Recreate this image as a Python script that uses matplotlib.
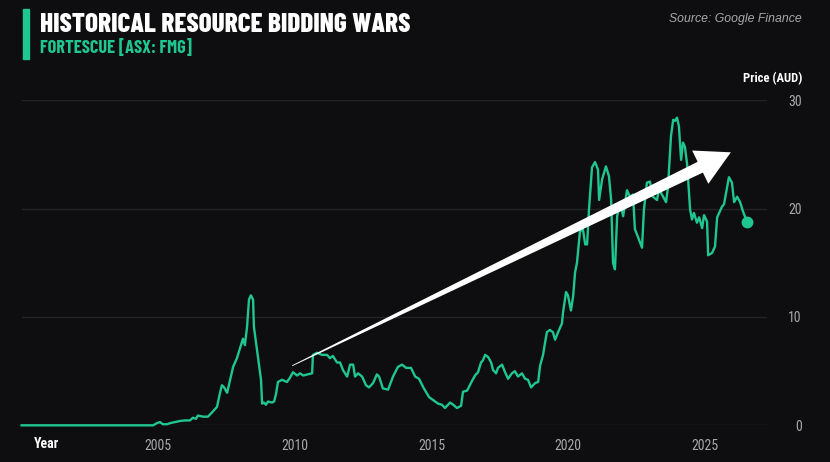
import matplotlib.pyplot as plt
from matplotlib.patches import Polygon, Rectangle

# FMG share price (AUD)
years = [
    2000.0, 2004.81, 2004.95, 2005.06, 2005.17, 2005.32, 2005.43, 2005.61, 2005.80, 2005.98,
    2006.16, 2006.27, 2006.38, 2006.45, 2006.64, 2006.82, 2006.97, 2007.15, 2007.26, 2007.33,
    2007.41, 2007.52, 2007.63, 2007.74, 2007.88, 2007.99, 2008.10, 2008.17, 2008.25, 2008.32,
    2008.39, 2008.47, 2008.50, 2008.58, 2008.65, 2008.76, 2008.80, 2008.87, 2008.94, 2009.02,
    2009.16, 2009.24, 2009.31, 2009.38, 2009.53, 2009.71, 2009.82, 2009.93, 2010.08, 2010.19,
    2010.30, 2010.63, 2010.66, 2010.81, 2010.99, 2011.18, 2011.28, 2011.39, 2011.54, 2011.65,
    2011.76, 2011.91, 2012.02, 2012.13, 2012.20, 2012.31, 2012.46, 2012.60, 2012.71, 2012.86,
    2013.00, 2013.08, 2013.22, 2013.41, 2013.59, 2013.77, 2013.92, 2014.07, 2014.25, 2014.40,
    2014.54, 2014.72, 2014.91, 2015.13, 2015.24, 2015.38, 2015.49, 2015.68, 2015.79, 2015.93,
    2016.08, 2016.15, 2016.30, 2016.44, 2016.59, 2016.70, 2016.81, 2016.88, 2016.96, 2017.07,
    2017.18, 2017.25, 2017.36, 2017.43, 2017.58, 2017.69, 2017.80, 2017.94, 2018.05, 2018.16,
    2018.31, 2018.42, 2018.53, 2018.64, 2018.79, 2018.90, 2018.97, 2019.08, 2019.15, 2019.22,
    2019.33, 2019.44, 2019.52, 2019.63, 2019.77, 2019.81, 2019.92, 2019.99, 2020.10, 2020.18,
    2020.25, 2020.32, 2020.43, 2020.54, 2020.62, 2020.69, 2020.76, 2020.87, 2020.98, 2021.09,
    2021.13, 2021.24, 2021.38, 2021.49, 2021.57, 2021.64, 2021.71, 2021.79, 2021.90, 2022.01,
    2022.15, 2022.26, 2022.37, 2022.44, 2022.55, 2022.70, 2022.77, 2022.88, 2022.99, 2023.10,
    2023.25, 2023.32, 2023.47, 2023.58, 2023.65, 2023.76, 2023.84, 2023.91, 2023.98, 2024.05,
    2024.13, 2024.20, 2024.27, 2024.35, 2024.46, 2024.53, 2024.60, 2024.71, 2024.79, 2024.90,
    2024.97, 2025.08, 2025.12, 2025.26, 2025.37, 2025.45, 2025.63, 2025.70, 2025.81, 2025.88,
    2025.99, 2026.07, 2026.18, 2026.29, 2026.40, 2026.54,
]
price = [
    0.0, 0.0, 0.2, 0.3, 0.1, 0.1, 0.2, 0.3, 0.4, 0.45,
    0.45, 0.7, 0.6, 0.9, 0.8, 0.8, 1.2, 1.7, 3.0, 3.7,
    3.5, 3.0, 4.2, 5.4, 6.2, 7.1, 8.0, 7.4, 9.1, 11.6,
    12.0, 11.6, 9.1, 7.6, 6.3, 4.2, 2.0, 2.1, 1.9, 2.2,
    2.1, 2.2, 2.9, 4.0, 4.2, 4.0, 4.4, 4.9, 4.6, 4.8,
    4.6, 4.8, 6.5, 6.7, 6.5, 6.5, 6.2, 6.4, 5.8, 5.8,
    5.1, 4.5, 5.6, 5.6, 4.5, 4.8, 4.5, 3.7, 3.5, 3.9,
    4.7, 4.5, 3.4, 3.3, 4.5, 5.4, 5.6, 5.3, 5.3, 4.5,
    4.3, 3.4, 2.6, 2.2, 2.0, 1.9, 1.6, 2.1, 1.9, 1.6,
    1.8, 3.1, 3.2, 3.9, 4.6, 4.9, 5.8, 6.0, 6.5, 6.3,
    5.8, 5.1, 4.8, 5.3, 5.6, 4.9, 4.3, 4.8, 5.0, 4.5,
    4.8, 4.3, 4.2, 3.5, 3.9, 4.0, 5.5, 6.5, 7.6, 8.6,
    8.8, 8.6, 7.9, 8.6, 9.4, 10.4, 12.3, 12.0, 10.6, 11.9,
    14.1, 15.0, 17.9, 18.1, 16.7, 16.7, 19.9, 23.8, 24.3, 23.6,
    20.8, 22.7, 23.9, 23.0, 20.8, 15.0, 14.4, 19.3, 20.6, 19.3,
    21.7, 21.1, 21.3, 18.1, 17.4, 16.4, 19.9, 22.4, 22.5, 21.1,
    20.8, 21.8, 21.1, 20.6, 22.0, 26.7, 28.2, 28.1, 28.4, 27.6,
    24.5, 26.1, 25.7, 24.1, 19.9, 19.0, 19.6, 18.7, 19.2, 18.2,
    19.4, 18.8, 15.7, 15.9, 16.5, 19.2, 20.2, 20.4, 21.9, 22.9,
    22.4, 20.6, 21.1, 20.6, 19.7, 18.8,
]

x_ticks = [2005, 2010, 2015, 2020, 2025]
y_ticks = [0, 10, 20, 30]

# trend arrow, in data coordinates
arrow_start = (2009.9, 5.5)
arrow_end = (2025.95, 25.2)

bg = '#0e0e10'
green = '#1fc690'
grey = '#a8a8ac'
cond = 'Roboto Condensed'
head_font = 'Barlow Condensed'

fig = plt.figure(figsize=(8.3, 4.62), dpi=100, facecolor=bg)
ax = fig.add_axes([0.026, 0.0794, 0.898, 0.7035])
ax.set_facecolor(bg)

ax.plot(years, price, color=green, lw=1.7, solid_joinstyle='round', clip_on=False, zorder=3)
ax.plot(years[-1], price[-1], 'o', color=green, ms=7.5, clip_on=False, zorder=4)

ax.set_xlim(2000, 2027.27)
ax.set_ylim(0, 30)
ax.set_xticks(x_ticks)
ax.set_yticks(y_ticks)
ax.grid(axis='y', color='#232326', lw=1)
ax.set_axisbelow(True)
for s in ax.spines.values():
    s.set_visible(False)

ax.yaxis.tick_right()
ax.tick_params(axis='y', length=0, pad=25.2, labelcolor=grey, labelsize=10)
ax.tick_params(axis='x', length=0, pad=9.5, labelcolor=grey, labelsize=10)
for lab in ax.get_yticklabels() + ax.get_xticklabels():
    lab.set_fontfamily(cond)
for lab in ax.get_yticklabels():
    lab.set_horizontalalignment('right')

# tapered arrow built in pixel space so it keeps its shape
p0 = ax.transData.transform(arrow_start)
p1 = ax.transData.transform(arrow_end)
d = p1 - p0
L = (d ** 2).sum() ** 0.5
u = d / L
n = [-u[1], u[0]]
head_len, head_w, w0, w1 = 34, 37, 0.8, 12
base = p1 - u * head_len
pts = [
    p0 + [n[0] * w0 / 2, n[1] * w0 / 2],
    base + [n[0] * w1 / 2, n[1] * w1 / 2],
    base + [n[0] * head_w / 2, n[1] * head_w / 2],
    p1,
    base - [n[0] * head_w / 2, n[1] * head_w / 2],
    base - [n[0] * w1 / 2, n[1] * w1 / 2],
    p0 - [n[0] * w0 / 2, n[1] * w0 / 2],
]
pts = ax.transData.inverted().transform(pts)
ax.add_patch(Polygon(pts, closed=True, facecolor='white', edgecolor='none',
                     zorder=5, clip_on=False))

# header
fig.patches.append(Rectangle((23 / 830, 1 - 59 / 462), 6 / 830, 50 / 462,
                             transform=fig.transFigure, color=green))
fig.text(40 / 830, 1 - 31.7 / 462, 'HISTORICAL RESOURCE BIDDING WARS', color='white',
         fontsize=19.5, fontweight=800, family=head_font, va='baseline', ha='left')
fig.text(40 / 830, 1 - 53.5 / 462, 'FORTESCUE [ASX: FMG]', color=green,
         fontsize=13.2, fontweight=700, family=head_font, va='baseline', ha='left')
fig.text(802 / 830, 1 - 21.7 / 462, 'Source: Google Finance', color=grey,
         fontsize=8.8, style='italic', family='Liberation Sans', va='baseline', ha='right')
fig.text(802 / 830, 1 - 81.7 / 462, 'Price (AUD)', color='white',
         fontsize=9.1, fontweight='bold', family=cond, va='baseline', ha='right')
fig.text(47 / 830, 1 - 444 / 462, 'Year', color='white',
         fontsize=10, fontweight='bold', family=cond, va='center', ha='center')

fig.savefig('out.png', dpi=100, facecolor=bg)
